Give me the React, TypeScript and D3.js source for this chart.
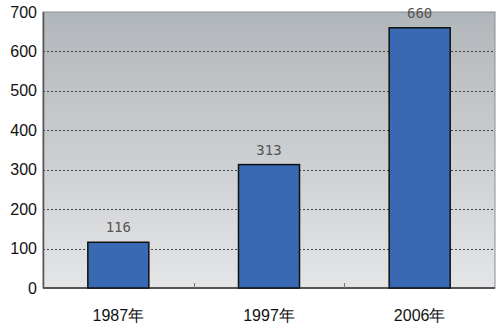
import React from "react";
import * as d3 from "d3";

const categories = ["1987年", "1997年", "2006年"];
const values = [116, 313, 660];
const yTicks = [0, 100, 200, 300, 400, 500, 600, 700];

export default function App() {
  const W = 500, H = 330;
  const left = 43, right = 495, top = 12, bottom = 288;
  const x = d3.scaleBand<string>().domain(categories).range([left, right]).paddingInner(0).paddingOuter(0);
  const y = d3.scaleLinear().domain([0, 700]).range([bottom, top]);
  const barW = x.bandwidth() * 0.405;
  const font = "'Liberation Sans', Arial, sans-serif";
  return (
    <svg width={W} height={H} style={{ position: "absolute", left: 0, top: 0, background: "#fff" }}>
      <defs>
        <linearGradient id="bg" x1="0" y1="0" x2="0" y2="1">
          <stop offset="0" stopColor="#b1b6ba" />
          <stop offset="1" stopColor="#e4e5e7" />
        </linearGradient>
      </defs>
      <rect x={left} y={top} width={right - left} height={bottom - top} fill="url(#bg)" stroke="#8a8d90" strokeWidth={1} />
      {yTicks.filter(t => t > 0 && t < 700).map(t => (
        <line key={t} x1={left} x2={right} y1={Math.round(y(t)) + 0.5} y2={Math.round(y(t)) + 0.5}
          stroke="#444" strokeWidth={1} strokeDasharray="2,2" />
      ))}
      <line x1={left + 0.5} x2={left + 0.5} y1={top} y2={bottom} stroke="#555" strokeWidth={1.5} />
      <line x1={left} x2={right} y1={bottom} y2={bottom} stroke="#555" strokeWidth={2} />
      {categories.slice(1).map(c => (
        <line key={c} x1={Math.round(x(c)!) + 0.5} x2={Math.round(x(c)!) + 0.5} y1={bottom} y2={bottom - 5} stroke="#777" strokeWidth={1} />
      ))}
      {categories.map((c, i) => {
        const cx = x(c)! + x.bandwidth() / 2;
        return (
          <g key={c}>
            <rect x={cx - barW / 2} y={y(values[i])} width={barW} height={bottom - y(values[i])}
              fill="#3a69b3" stroke="#111" strokeWidth={1.5} />
            <text x={cx} y={y(values[i]) - 10} textAnchor="middle" fontFamily="'DejaVu Sans Mono', monospace"
              fontSize={14} fill="#555">{values[i]}</text>
            <text x={cx} y={321} textAnchor="middle" fontFamily={font} fontSize={16} fill="#111">{c}</text>
          </g>
        );
      })}
      {yTicks.map(t => (
        <text key={t} x={37} y={y(t) + 5.5} textAnchor="end" fontFamily={font} fontSize={16} fill="#111">{t}</text>
      ))}
    </svg>
  );
}
